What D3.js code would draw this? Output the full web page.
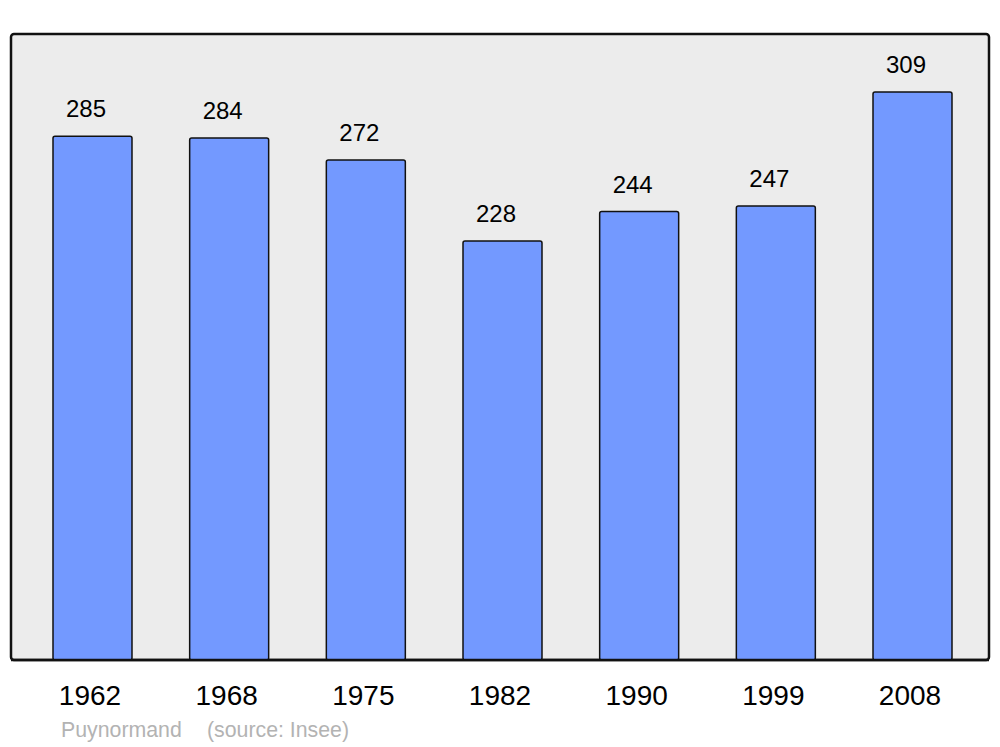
<!DOCTYPE html>
<html><head><meta charset="utf-8">
<script src="https://cdn.jsdelivr.net/npm/d3@7"></script>
<style>body{margin:0;background:#fff;} svg{display:block;}</style>
</head><body>
<script>
const years = ["1962","1968","1975","1982","1990","1999","2008"];
const population = [285,284,272,228,244,247,309];
const title = "Puynormand";
const source = "(source: Insee)";

const W = 1000, H = 747;
const svg = d3.select("body").append("svg").attr("width", W).attr("height", H);
const font = "'Liberation Sans', Arial, sans-serif";

const panel = {x0: 11, y0: 34, x1: 989, y1: 660};
svg.append("rect")
  .attr("x", panel.x0).attr("y", panel.y0)
  .attr("width", panel.x1 - panel.x0).attr("height", panel.y1 - panel.y0)
  .attr("rx", 3).attr("fill", "#ececec").attr("stroke", "#111").attr("stroke-width", 2.5);

const x = d3.scaleBand().domain(years).range([20.2, 984.8]).paddingInner(0.422).paddingOuter(0.24);
const y = d3.scaleLinear().domain([0, 340.6]).range([panel.y1, panel.y0]);

const data = years.map((yr, i) => ({yr, v: population[i]}));

svg.append("g").selectAll("rect").data(data).join("rect")
  .attr("x", d => x(d.yr)).attr("y", d => y(d.v))
  .attr("width", x.bandwidth()).attr("height", d => y(0) - y(d.v))
  .attr("rx", 2).attr("fill", "#7399ff").attr("stroke", "#111").attr("stroke-width", 1.5);

// redraw panel bottom border over bars
svg.append("line").attr("x1", panel.x0).attr("x2", panel.x1).attr("y1", panel.y1).attr("y2", panel.y1)
  .attr("stroke", "#111").attr("stroke-width", 2.5);

svg.append("g").selectAll("text").data(data).join("text")
  .attr("x", d => x(d.yr) + x.bandwidth()/2 - 6.5).attr("y", d => y(d.v) - 19)
  .attr("text-anchor", "middle").attr("font-family", font).attr("font-size", 24)
  .attr("fill", "#000").text(d => d.v);

const xAxis = d3.axisBottom(x).tickSize(0).tickPadding(0);
const ax = svg.append("g").attr("transform", `translate(-2.5,${panel.y1})`).call(xAxis);
ax.select(".domain").remove();
ax.selectAll("text").attr("font-family", font).attr("font-size", 28).attr("fill", "#000")
  .attr("dy", null).attr("y", 45);

svg.append("text").attr("x", 61).attr("y", 737).attr("font-family", font).attr("font-size", 21.3)
  .attr("fill", "#b3b3b3").text(title);
svg.append("text").attr("x", 207).attr("y", 737).attr("font-family", font).attr("font-size", 21.3)
  .attr("fill", "#b3b3b3").text(source);
</script>
</body></html>
